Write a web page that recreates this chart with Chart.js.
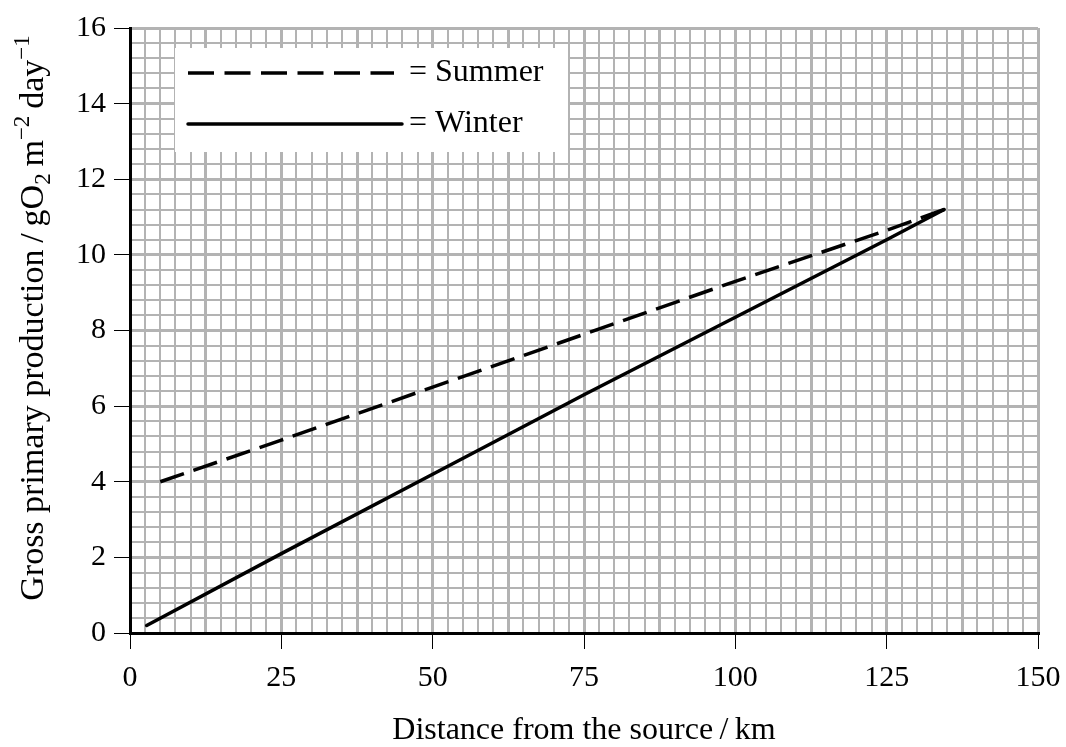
<!DOCTYPE html>
<html>
<head>
<meta charset="utf-8">
<script src="https://cdn.jsdelivr.net/npm/chart.js@4.4.1/dist/chart.umd.min.js"></script>
<style>
  body { margin: 0; background: #fff; }
  #wrap { width: 1066px; height: 747px; }
</style>
</head>
<body>
<div id="wrap"><canvas id="myChart" width="1066" height="747"></canvas></div>
<script>
// values
const seriesNames = ["Summer", "Winter"];
const summerKm = [5, 25, 50, 75, 100, 125, 134.5];
const summerGpp = [4.0, 5.1, 6.5, 7.9, 9.3, 10.65, 11.2];
const winterKm = [2.75, 25, 50, 75, 100, 125, 134.5];
const winterGpp = [0.2, 2.1, 4.2, 6.3, 8.35, 10.4, 11.2];
const xTickLabels = [0, 25, 50, 75, 100, 125, 150];
const yTickLabels = [0, 2, 4, 6, 8, 10, 12, 14, 16];

const FONT = "'Liberation Serif', 'Times New Roman', serif";
const GRID = "#b3b3b3";

const near = (list, v) => list.some((t) => Math.abs(t - v) < 1e-6);
// thicker line every 5 small squares
const xMajor = (v) => Math.abs(v / 12.5 - Math.round(v / 12.5)) < 1e-6;
const yMajor = (v) => Math.abs(v / 2 - Math.round(v / 2)) < 1e-6;

const toPoints = (xs, ys) => xs.map((x, i) => ({ x: x, y: ys[i] }));

// legend box + y title with sub/superscripts
const paperExtras = {
  id: "paperExtras",
  afterDatasetsDraw(chart) {
    const ctx = chart.ctx;
    const a = chart.chartArea;
    ctx.save();
    ctx.fillStyle = "#fff";
    ctx.fillRect(a.left + 45, a.top + 20, 393, 104);

    ctx.strokeStyle = "#000";
    ctx.lineWidth = 3.5;
    ctx.setLineDash([26, 10.5]);
    ctx.beginPath();
    ctx.moveTo(a.left + 58, a.top + 45);
    ctx.lineTo(a.left + 264, a.top + 45);
    ctx.stroke();
    ctx.setLineDash([]);
    ctx.lineCap = "round";
    ctx.beginPath();
    ctx.moveTo(a.left + 58, a.top + 96);
    ctx.lineTo(a.left + 272, a.top + 96);
    ctx.stroke();

    ctx.fillStyle = "#000";
    ctx.font = "32px " + FONT;
    ctx.textBaseline = "middle";
    ctx.textAlign = "left";
    ctx.fillText("= " + seriesNames[0], a.left + 279, a.top + 45);
    ctx.fillText("= " + seriesNames[1], a.left + 279, a.top + 96);

    // y axis title
    const fs = 34;
    const parts = [
      ["Gross primary production\u2009/\u2009gO", 0],
      ["2", 1],
      ["\u2009m", 0],
      ["\u22122", 2],
      ["\u2009day", 0],
      ["\u22121", 2],
    ];
    const fontFor = (k) => (k === 0 ? fs : Math.round(fs * 0.68)) + "px " + FONT;
    let total = 0;
    parts.forEach((p) => {
      ctx.font = fontFor(p[1]);
      total += ctx.measureText(p[0]).width;
    });
    ctx.translate(43, 318);
    ctx.rotate(-Math.PI / 2);
    ctx.textBaseline = "alphabetic";
    let x = -total / 2;
    parts.forEach((p) => {
      ctx.font = fontFor(p[1]);
      const dy = p[1] === 1 ? fs * 0.22 : p[1] === 2 ? -fs * 0.42 : 0;
      ctx.fillText(p[0], x, dy);
      x += ctx.measureText(p[0]).width;
    });
    ctx.restore();
  },
};

const ctx = document.getElementById("myChart").getContext("2d");
const myChart = new Chart(ctx, {
  type: "line",
  data: {
    datasets: [
      {
        label: seriesNames[0],
        data: toPoints(summerKm, summerGpp),
        borderColor: "#000",
        borderWidth: 3.5,
        borderDash: [25, 10],
        pointRadius: 0,
        tension: 0,
      },
      {
        label: seriesNames[1],
        data: toPoints(winterKm, winterGpp),
        borderColor: "#000",
        borderWidth: 3.5,
        borderCapStyle: "round",
        pointRadius: 0,
        tension: 0,
      },
    ],
  },
  options: {
    responsive: false,
    animation: false,
    layout: { padding: { left: 0, right: 28, top: 28, bottom: 0 } },
    plugins: {
      legend: { display: false },
      tooltip: { enabled: false },
    },
    scales: {
      x: {
        type: "linear",
        min: 0,
        max: 150,
        afterFit: (s) => {
          s.height = 114;
          s.paddingLeft = 0;
          s.paddingRight = 0;
        },
        border: { display: true, color: "#000", width: 3 },
        grid: {
          color: GRID,
          lineWidth: (c) => (xMajor(c.tick.value) ? 3 : 2),
          tickLength: 16,
          tickWidth: 1,
          tickColor: (c) => (near(xTickLabels, c.tick.value) ? "#000" : "rgba(0,0,0,0)"),
        },
        ticks: {
          stepSize: 2.5,
          maxTicksLimit: 100,
          autoSkip: false,
          maxRotation: 0,
          padding: 11,
          color: "#000",
          font: { family: FONT, size: 30 },
          callback: (v) => (near(xTickLabels, v) ? String(v) : ""),
        },
        title: {
          display: true,
          text: "Distance from the source\u2009/\u2009km",
          color: "#000",
          font: { family: FONT, size: 32, lineHeight: 1.0 },
          padding: { top: 0, bottom: 0 },
        },
      },
      y: {
        type: "linear",
        min: 0,
        max: 16,
        afterFit: (s) => {
          s.width = 130;
          s.paddingTop = 0;
          s.paddingBottom = 0;
        },
        border: { display: true, color: "#000", width: 3 },
        grid: {
          color: GRID,
          lineWidth: (c) => (yMajor(c.tick.value) ? 3 : 2),
          tickLength: 16,
          tickWidth: 1,
          tickColor: (c) => (near(yTickLabels, c.tick.value) ? "#000" : "rgba(0,0,0,0)"),
        },
        ticks: {
          stepSize: 0.4,
          maxTicksLimit: 100,
          autoSkip: false,
          padding: 8,
          color: "#000",
          font: { family: FONT, size: 30 },
          callback: (v) => (near(yTickLabels, v) ? String(v) : ""),
        },
      },
    },
  },
  plugins: [paperExtras],
});
</script>
</body>
</html>
